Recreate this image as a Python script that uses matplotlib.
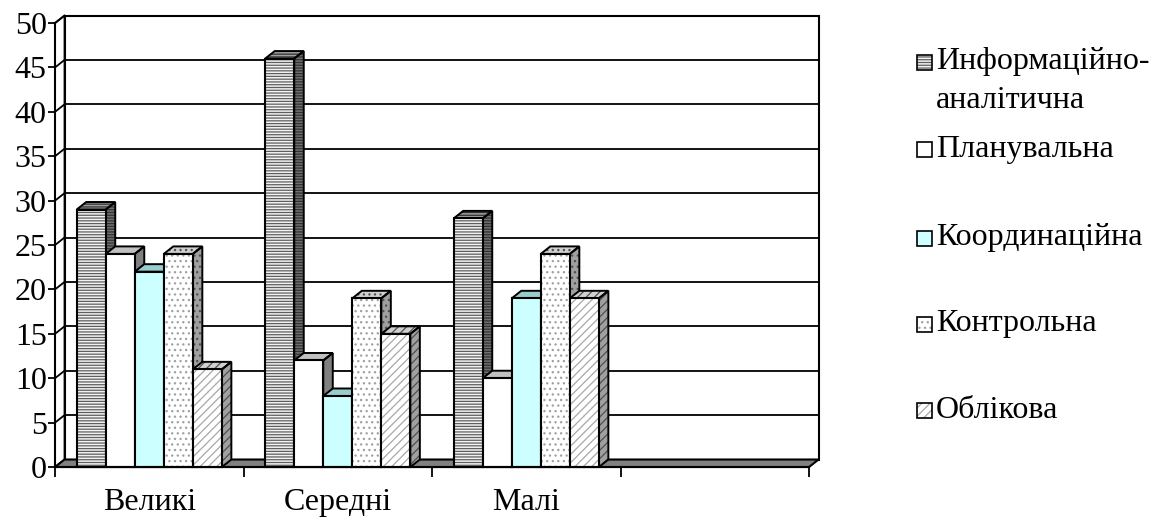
import numpy as np
import matplotlib
matplotlib.use("Agg")
import matplotlib.pyplot as plt
from matplotlib.patches import Polygon, Rectangle

plt.rcParams["font.family"] = ["Liberation Serif", "DejaVu Serif"]
plt.rcParams["hatch.linewidth"] = 0.9

categories = ["Великі", "Середні", "Малі", ""]
series_names = ["Информаційно-\nаналітична", "Планувальна", "Координаційна", "Контрольна", "Облікова"]
values = {
    "Информаційно-\nаналітична": [29, 46, 28],
    "Планувальна": [24, 12, 10],
    "Координаційна": [22, 8, 19],
    "Контрольна": [24, 19, 24],
    "Облікова": [11, 15, 19],
}
y_ticks = list(range(0, 51, 5))
FS = 23

# front / top / side colours, hatch pattern and hatch colours per series
styles = [
    dict(front="#F2F2F2", top="#A0A0A0", side="#707070", hatch="------", hc="#5E5E5E", hc_side="#303030"),
    dict(front="#FFFFFF", top="#C0C0C0", side="#808080", hatch=None, hc="#FFFFFF", hc_side="#808080"),
    dict(front="#CCFFFF", top="#99CCCC", side="#669999", hatch=None, hc="#CCFFFF", hc_side="#669999"),
    dict(front="#FFFFFF", top="#D0D0D0", side="#A0A0A0", hatch="...", hc="#A0A0A0", hc_side="#505050"),
    dict(front="#FFFFFF", top="#D0D0D0", side="#A0A0A0", hatch="////", hc="#A8A8A8", hc_side="#505050"),
]

fig = plt.figure(figsize=(11.61, 5.2), dpi=100)
ax = fig.add_axes([0.03928, 0.0848, 0.6738, 0.8965])
ax.set_xlim(-0.55, 3.6)
ax.set_ylim(-1, 51.5)

# depth of the 3-D effect, in pixels converted to data units
p0 = ax.transData.transform((0, 0))
dx, dy = ax.transData.inverted().transform(p0 + np.array([9.5, 7.5]))

x0, x1, ytop = -0.5, len(categories) - 0.5, 50

# floor
ax.add_patch(Polygon([(x0, 0), (x1, 0), (x1 + dx, dy), (x0 + dx, dy)],
                     closed=True, facecolor="#808080", edgecolor="black", lw=1.5, zorder=2))
# side wall and back wall
ax.add_patch(Polygon([(x0, 0), (x0 + dx, dy), (x0 + dx, ytop + dy), (x0, ytop)],
                     closed=True, facecolor="white", edgecolor="black", lw=1.3, zorder=1))
ax.add_patch(Rectangle((x0 + dx, dy), x1 - x0, ytop, facecolor="white",
                       edgecolor="black", lw=1.5, zorder=1))
for t in y_ticks[1:]:
    ax.plot([x0, x0 + dx], [t, t + dy], color="black", lw=1.3, zorder=1.5)
    ax.plot([x0 + dx, x1 + dx], [t + dy, t + dy], color="black", lw=1.3, zorder=1.5)

# clustered bars
n = len(series_names)
group_w = 0.77
w = group_w / n
x = np.arange(len(values[series_names[0]]))
for s, name in enumerate(series_names):
    st = styles[s]
    vals = values[name]
    xs = x - group_w / 2 + w * (s + 0.5)
    z = 3 + 3 * s
    for xc, v in zip(xs, vals):
        l, r = xc - w / 2, xc + w / 2
        side = [(r, 0), (r + dx, dy), (r + dx, v + dy), (r, v)]
        top = [(l, v), (r, v), (r + dx, v + dy), (l + dx, v + dy)]
        for pts, fc, hc in [(side, st["side"], st["hc_side"]), (top, st["top"], st["hc_side"] if st["hatch"] else st["top"])]:
            ax.add_patch(Polygon(pts, closed=True, facecolor=fc, edgecolor=hc,
                                 hatch=st["hatch"], lw=0, zorder=z))
            ax.add_patch(Polygon(pts, closed=True, fill=False, edgecolor="black",
                                 lw=1.4, zorder=z + 0.1))
    ax.bar(xs, vals, w, color=st["front"], hatch=st["hatch"], edgecolor=st["hc"],
           lw=0, zorder=z + 1)
    ax.bar(xs, vals, w, fill=False, edgecolor="black", lw=1.5, zorder=z + 1.1)

# axes
for sp in ["top", "right"]:
    ax.spines[sp].set_visible(False)
ax.spines["left"].set_position(("data", x0))
ax.spines["left"].set_bounds(0, ytop)
ax.spines["bottom"].set_position(("data", 0))
ax.spines["bottom"].set_bounds(x0, x1)
for sp in ["left", "bottom"]:
    ax.spines[sp].set_linewidth(1.5)
    ax.spines[sp].set_zorder(30)

ax.set_yticks(y_ticks)
ax.tick_params(axis="y", direction="out", length=5, width=1.3, pad=1, labelsize=FS)
ax.set_xticks(np.arange(len(categories) + 1) - 0.5)
ax.set_xticklabels([])
ax.set_xticks(np.arange(len(categories)), minor=True)
ax.set_xticklabels(categories, minor=True)
ax.tick_params(axis="x", which="major", direction="out", length=7, width=1.3)
ax.tick_params(axis="x", which="minor", length=0, pad=15, labelsize=FS)

# legend on the right
W, H = fig.get_size_inches() * fig.dpi
leg_rows = [62, 149, 238, 324, 410]
for s, (name, yc) in enumerate(zip(series_names, leg_rows)):
    st = styles[s]
    box_y = 1 - (yc + 8) / H
    fig.add_artist(Rectangle((917 / W, box_y), 15 / W, 15 / H, transform=fig.transFigure,
                             facecolor=st["front"], hatch=st["hatch"], edgecolor=st["hc"] if st["hatch"] else st["front"], lw=0))
    fig.add_artist(Rectangle((917 / W, box_y), 15 / W, 15 / H, transform=fig.transFigure,
                             fill=False, edgecolor="black", lw=1.2))
    if "\n" in name:
        first, second = name.split("\n")
        fig.text(936 / W, 1 - yc / H, first, fontsize=FS, va="center", ha="left")
        fig.text(936 / W, 1 - (yc + 39) / H, second, fontsize=FS, va="center", ha="left")
    else:
        fig.text(936 / W, 1 - yc / H, name, fontsize=FS, va="center", ha="left")

fig.savefig("out.png", dpi=100)
